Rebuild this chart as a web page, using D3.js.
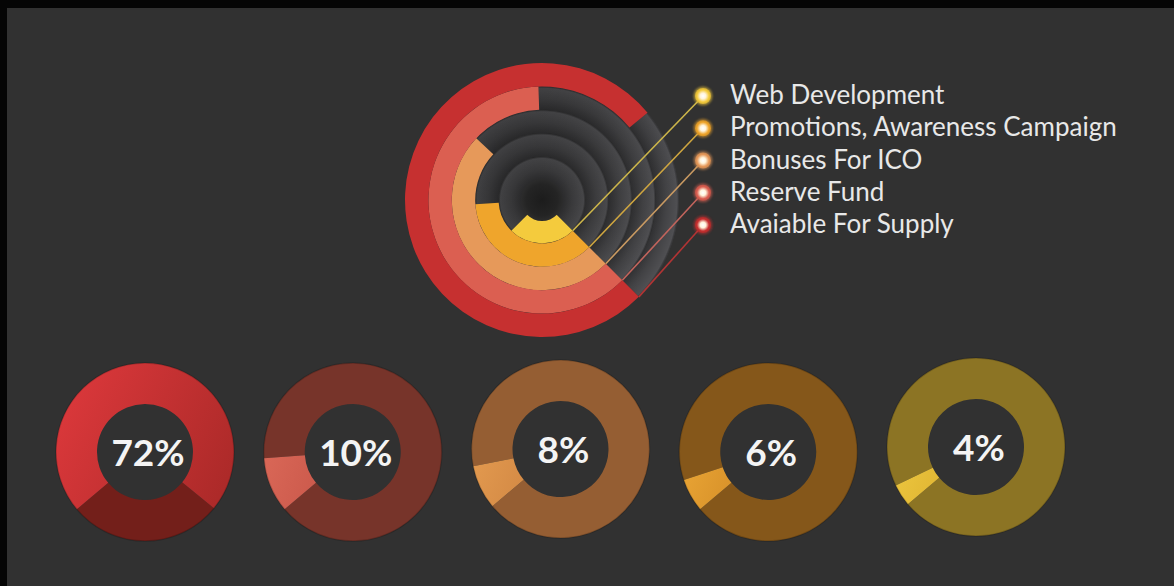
<!DOCTYPE html>
<html>
<head>
<meta charset="utf-8">
<script src="https://cdn.jsdelivr.net/npm/d3@7"></script>
<style>
  html, body { margin: 0; padding: 0; background: #000; }
  svg { display: block; }
</style>
</head>
<body>
<svg id="chart" width="1174" height="586"></svg>
<script>
// Token allocation categories, innermost ring first
const categories = [
  "Web Development",
  "Promotions, Awareness Campaign",
  "Bonuses For ICO",
  "Reserve Fund",
  "Avaiable For Supply"
];
// Share of the total supply, percent
const shares = [4, 6, 8, 10, 72];
// Portion of each ring that is filled in the radial overview
const ringFill = [0.25, 0.365, 0.495, 0.62, 0.765];
// Order of the small donuts along the bottom row
const donutOrder = [
  "Avaiable For Supply",
  "Reserve Fund",
  "Bonuses For ICO",
  "Promotions, Awareness Campaign",
  "Web Development"
];

const W = 1174, H = 586;
const svg = d3.select("#chart");
const defs = svg.append("defs");

const ringColor = d3.scaleOrdinal()
  .domain(categories)
  .range(["#f4cb3d", "#efa52c", "#e6995a", "#db5f51", "#c63030"]);
const lineColor = d3.scaleOrdinal()
  .domain(categories)
  .range(["#cdb64a", "#cfa640", "#c99a62", "#c2645c", "#b23434"]);
const lightColor = d3.scaleOrdinal()
  .domain(categories)
  .range(["#ebc43d", "#e7a233", "#e1984e", "#d86656", "#db383b"]);
const lightColorEnd = d3.scaleOrdinal()
  .domain(categories)
  .range(["#e0b633", "#d8922a", "#d48a45", "#cc5a4c", "#ad2a29"]);
const restColor = d3.scaleOrdinal()
  .domain(categories)
  .range(["#8c7424", "#85571a", "#955e33", "#77342a", "#731f1a"]);

// page background with dark frame along the top and left edges
svg.append("rect").attr("width", W).attr("height", H).attr("fill", "#050505");
svg.append("rect").attr("x", 7).attr("y", 8).attr("width", W - 7).attr("height", H - 8).attr("fill", "#313131");

// ---------- radial overview ----------
const cx = 542, cy = 200;
const radius = d3.scaleBand().domain(categories).range([20, 137]).paddingInner(0);
const sweep = d3.scaleLinear().domain([0, 1]).range([0, 2 * Math.PI]);
const anchor = Math.PI * 3 / 4;   // every ring starts at the lower right and runs clockwise
const R = 137;

// gradients are given in the overview group's own coordinates (origin at the hub)
const trackGrad = defs.append("linearGradient")
  .attr("id", "track").attr("gradientUnits", "userSpaceOnUse")
  .attr("x1", -110).attr("y1", -60).attr("x2", 120).attr("y2", 20);
trackGrad.append("stop").attr("offset", 0).attr("stop-color", "#3c3c3e");
trackGrad.append("stop").attr("offset", 0.6).attr("stop-color", "#444446");
trackGrad.append("stop").attr("offset", 1).attr("stop-color", "#4f4f52");

// each grey track darkens toward its inner edge
const bandGrad = defs.append("radialGradient")
  .attr("id", "band").attr("gradientUnits", "userSpaceOnUse")
  .attr("cx", 0).attr("cy", 0).attr("r", R);
categories.forEach(c => {
  const r0 = radius(c) / R, r1 = (radius(c) + radius.bandwidth()) / R;
  bandGrad.append("stop").attr("offset", r0).attr("stop-color", "#000").attr("stop-opacity", 0.38);
  bandGrad.append("stop").attr("offset", r0 + (r1 - r0) * 0.45).attr("stop-color", "#000").attr("stop-opacity", 0.16);
  bandGrad.append("stop").attr("offset", r1 - 0.014).attr("stop-color", "#000").attr("stop-opacity", 0.0);
  bandGrad.append("stop").attr("offset", r1 - 0.004).attr("stop-color", "#000").attr("stop-opacity", 0.28);
});

const overview = svg.append("g").attr("transform", `translate(${cx},${cy})`);
const arc = d3.arc();

const rings = categories.map((c, i) => ({
  cat: c,
  inner: radius(c),
  outer: radius(c) + radius.bandwidth(),
  span: sweep(ringFill[i])
}));

// grey tracks
const trackArc = d => arc({ innerRadius: d.inner, outerRadius: d.outer, startAngle: anchor + d.span, endAngle: anchor + 2 * Math.PI });
overview.selectAll("path.track").data(rings).join("path")
  .attr("class", "track").attr("d", trackArc).attr("fill", "url(#track)");
overview.selectAll("path.band").data(rings).join("path")
  .attr("class", "band").attr("d", trackArc).attr("fill", "url(#band)");

// filled portions
overview.selectAll("path.fill").data(rings).join("path")
  .attr("class", "fill")
  .attr("d", d => arc({ innerRadius: d.inner, outerRadius: d.outer, startAngle: anchor, endAngle: anchor + d.span }))
  .attr("fill", d => ringColor(d.cat));

// dark hub
const hubGrad = defs.append("radialGradient").attr("id", "hub");
hubGrad.append("stop").attr("offset", 0).attr("stop-color", "#1c1c1c");
hubGrad.append("stop").attr("offset", 0.75).attr("stop-color", "#242424");
hubGrad.append("stop").attr("offset", 1).attr("stop-color", "#2c2c2c");
overview.append("circle").attr("r", 21).attr("fill", "url(#hub)");

// ---------- legend with leader lines ----------
const legendY = d3.scalePoint().domain(categories).range([96, 225]);
const dotX = 703, textX = 730;

const glow = defs.append("filter").attr("id", "glow").attr("x", "-50%").attr("y", "-50%").attr("width", "200%").attr("height", "200%");
glow.append("feGaussianBlur").attr("stdDeviation", 1.2);

categories.forEach((c, i) => {
  const g = defs.append("radialGradient").attr("id", "dot" + i);
  g.append("stop").attr("offset", 0).attr("stop-color", "#ffffff");
  g.append("stop").attr("offset", 0.35).attr("stop-color", "#fff4dc");
  g.append("stop").attr("offset", 0.75).attr("stop-color", ringColor(c));
  g.append("stop").attr("offset", 1).attr("stop-color", d3.color(ringColor(c)).darker(0.4));
});

const legend = svg.append("g");
legend.selectAll("line").data(rings).join("line")
  .attr("x1", d => cx + d.outer * Math.sin(anchor))
  .attr("y1", d => cy - d.outer * Math.cos(anchor))
  .attr("x2", dotX)
  .attr("y2", d => legendY(d.cat))
  .attr("stroke", d => lineColor(d.cat))
  .attr("stroke-width", 1.6);

legend.selectAll("circle.halo").data(categories).join("circle")
  .attr("class", "halo")
  .attr("cx", dotX).attr("cy", d => legendY(d))
  .attr("r", 9.5).attr("fill", d => ringColor(d)).attr("opacity", 0.55)
  .attr("filter", "url(#glow)");
legend.selectAll("circle.dot").data(categories).join("circle")
  .attr("class", "dot")
  .attr("cx", dotX).attr("cy", d => legendY(d))
  .attr("r", 8).attr("fill", (d, i) => `url(#dot${i})`);

legend.selectAll("text").data(categories).join("text")
  .attr("x", textX)
  .attr("y", d => legendY(d) + 8)
  .attr("fill", "#e8e8e8")
  .attr("font-family", "Lato, 'Open Sans', sans-serif")
  .attr("font-size", 26)
  .text(d => d);

// ---------- row of small donuts ----------
const donutX = d3.scalePoint().domain(donutOrder).range([145, 976]);
const donutY = [452, 452, 449, 452, 447];
const pct = d3.scaleLinear().domain([0, 100]).range([0, 2 * Math.PI]);
const startAt = 230 * Math.PI / 180;
const rOuter = 89, rInner = 48;
const shareOf = c => shares[categories.indexOf(c)];

donutOrder.forEach((c, i) => {
  const g = defs.append("linearGradient").attr("id", "hl" + i)
    .attr("x1", 0).attr("y1", 0.3).attr("x2", 1).attr("y2", 0.7);
  g.append("stop").attr("offset", 0).attr("stop-color", lightColor(c));
  g.append("stop").attr("offset", 1).attr("stop-color", lightColorEnd(c));
});

const donuts = svg.selectAll("g.donut").data(donutOrder).join("g")
  .attr("class", "donut")
  .attr("transform", (d, i) => `translate(${donutX(d)},${donutY[i]})`);

donuts.append("path")
  .attr("d", d => arc({ innerRadius: rInner, outerRadius: rOuter, startAngle: startAt + pct(shareOf(d)), endAngle: startAt + 2 * Math.PI }))
  .attr("fill", d => restColor(d));
donuts.append("path")
  .attr("d", d => arc({ innerRadius: rInner, outerRadius: rOuter, startAngle: startAt, endAngle: startAt + pct(shareOf(d)) }))
  .attr("fill", (d, i) => `url(#hl${i})`);
donuts.append("circle").attr("r", rOuter).attr("fill", "none")
  .attr("stroke", "#000").attr("stroke-opacity", 0.18).attr("stroke-width", 1.5);

donuts.append("text")
  .attr("text-anchor", "middle")
  .attr("x", 3)
  .attr("y", 14)
  .attr("fill", "#f4f4f4")
  .attr("font-family", "Lato, 'Open Sans', sans-serif")
  .attr("font-weight", 700)
  .attr("font-size", 37)
  .text(d => shareOf(d) + "%");
</script>
</body>
</html>
